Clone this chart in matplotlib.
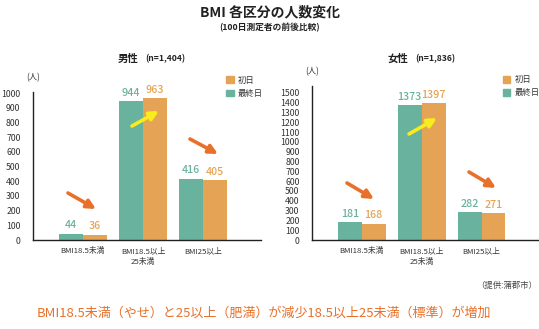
import matplotlib
matplotlib.use('Agg')
import matplotlib.pyplot as plt
import numpy as np
from matplotlib.patches import Patch, FancyArrowPatch

plt.rcParams['font.family'] = ['Noto Sans CJK JP', 'DejaVu Sans']

GREEN = '#69b39e'
ORANGE = '#e5a455'
ARROW_ORANGE = '#e8702a'
ARROW_YELLOW = '#f7ec1c'

categories = ['BMI18.5未満', 'BMI18.5以上\n25未満', 'BMI25以上']

male_last = [44, 944, 416]
male_first = [36, 963, 405]
male_ticks = list(range(0, 1001, 100))

female_last = [181, 1373, 282]
female_first = [168, 1397, 271]
female_ticks = list(range(0, 1501, 100))

fig = plt.figure(figsize=(5.39, 3.29), dpi=100)

fig.text(0.5, 1 - 12 / 329, 'BMI 各区分の人数変化', ha='center', va='center',
         fontsize=10, fontweight='bold', color='#222222')
fig.text(0.5, 1 - 28 / 329, '(100日測定者の前後比較)', ha='center', va='center',
         fontsize=6.3, fontweight='bold', color='#222222')


def draw_panel(rect, last, first, ticks, ymax, unit_y, legend_xy):
    ax = fig.add_axes(rect)
    x = np.arange(len(categories))
    w = 0.4
    b1 = ax.bar(x - w / 2, last, w, color=GREEN, label='最終日')
    b2 = ax.bar(x + w / 2, first, w, color=ORANGE, label='初日')
    for rects, vals, col in ((b1, last, GREEN), (b2, first, ORANGE)):
        for r, v in zip(rects, vals):
            ax.annotate(str(v), (r.get_x() + r.get_width() / 2, v),
                        xytext=(0, 2.5), textcoords='offset points',
                        ha='center', va='bottom', fontsize=7.7,
                        fontweight='medium', color=col)
    ax.set_xlim(-0.83, 2.96)
    ax.set_ylim(0, ymax)
    ax.set_yticks(ticks)
    ax.set_xticks(x)
    ax.set_xticklabels(categories, fontsize=5.6, color='#333333', linespacing=1.5)
    ax.tick_params(axis='y', length=0, pad=9, labelsize=6.3, labelcolor='#333333')
    ax.tick_params(axis='x', length=0, pad=5)
    for s in ('top', 'right'):
        ax.spines[s].set_visible(False)
    for s in ('left', 'bottom'):
        ax.spines[s].set_linewidth(1.0)
        ax.spines[s].set_color('#222222')
    ax.text(0.0, unit_y, '(人)', transform=ax.transAxes, ha='center',
            va='center', fontsize=6, color='#333333')
    ax.legend(handles=[Patch(color=ORANGE, label='初日'),
                       Patch(color=GREEN, label='最終日')],
              loc='upper left', bbox_to_anchor=legend_xy, frameon=False,
              fontsize=6, handlelength=0.9, handleheight=0.9,
              handletextpad=0.5, labelspacing=0.5, borderpad=0,
              borderaxespad=0, labelcolor='#333333')
    return ax


ax_m = draw_panel([33 / 539, 1 - 240 / 329, 227.7 / 539, 148 / 329],
                  male_last, male_first, male_ticks, 1007,
                  (240 - 78) / 148, (0.848, 1.11))
ax_f = draw_panel([312 / 539, 1 - 240 / 329, 227 / 539, 154 / 329],
                  female_last, female_first, female_ticks, 1571,
                  (240 - 72) / 154, (0.841, 1.07))

# panel headings
fig.text(118 / 539, 1 - 59 / 329, '男性', ha='left', va='center',
         fontsize=7.5, fontweight='bold', color='#222222')
fig.text(145 / 539, 1 - 59 / 329, '(n=1,404)', ha='left', va='center',
         fontsize=6.2, fontweight='bold', color='#222222')
fig.text(388 / 539, 1 - 59 / 329, '女性', ha='left', va='center',
         fontsize=7.5, fontweight='bold', color='#222222')
fig.text(415 / 539, 1 - 59 / 329, '(n=1,836)', ha='left', va='center',
         fontsize=6.2, fontweight='bold', color='#222222')

# trend arrows (pixel positions, start -> end)
arrows = [
    ((68, 193), (96, 209), ARROW_ORANGE),
    ((132, 126), (159, 111), ARROW_YELLOW),
    ((190, 139), (218, 154), ARROW_ORANGE),
    ((347, 183), (374, 199), ARROW_ORANGE),
    ((409, 134), (437, 118), ARROW_YELLOW),
    ((469, 172), (496, 188), ARROW_ORANGE),
]
for (x0, y0), (x1, y1), col in arrows:
    fig.add_artist(FancyArrowPatch(
        (x0 / 539, 1 - y0 / 329), (x1 / 539, 1 - y1 / 329),
        transform=fig.transFigure, arrowstyle='-|>', mutation_scale=13,
        lw=2.6, color=col, shrinkA=0, shrinkB=0))

fig.text(537 / 539, 1 - 285 / 329, '（提供:蒲郡市）', ha='right', va='center',
         fontsize=6, color='#444444')
fig.text(0.49, 1 - 313 / 329,
         'BMI18.5未満（やせ）と25以上（肥満）が減少18.5以上25未満（標準）が増加',
         ha='center', va='center', fontsize=9.4, color=ARROW_ORANGE)

fig.savefig('out.png', dpi=100)
